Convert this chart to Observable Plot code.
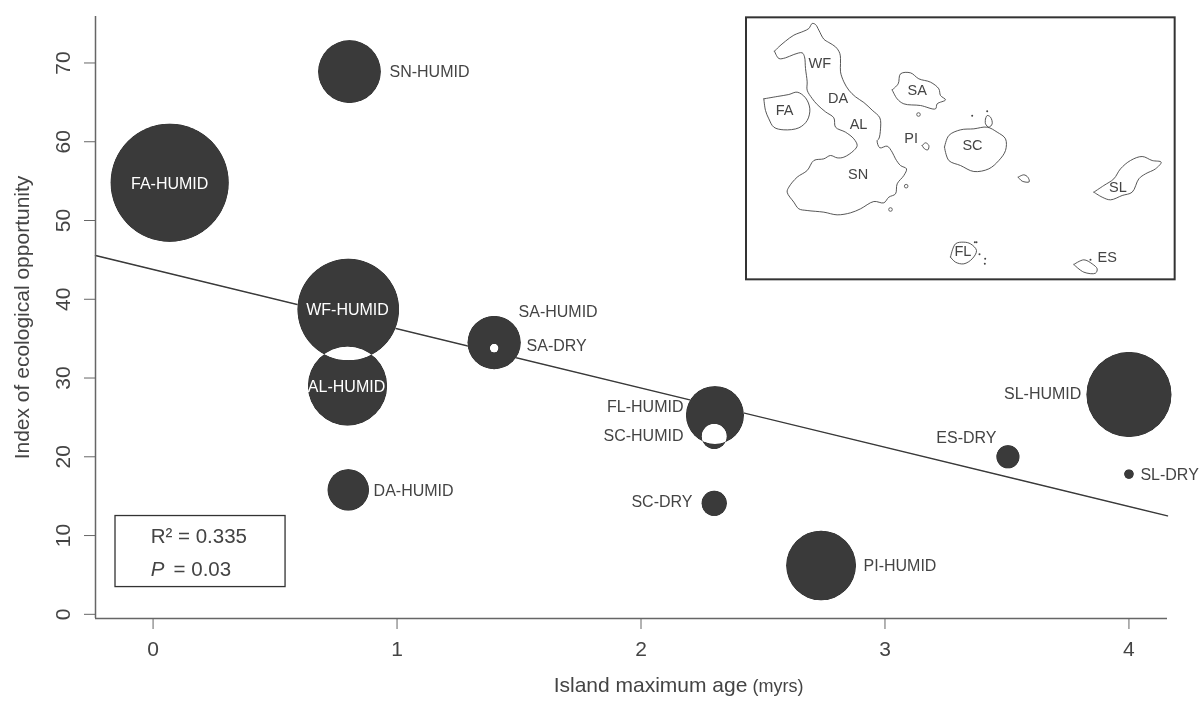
<!DOCTYPE html>
<html>
<head>
<meta charset="utf-8">
<script src="https://cdn.jsdelivr.net/npm/d3@7"></script>
<script src="https://cdn.jsdelivr.net/npm/@observablehq/plot@0.6"></script>
<style>
html,body{margin:0;padding:0;background:#fff;}
#wrap{position:relative;width:1199px;height:702px;overflow:hidden;}
#wrap svg{position:absolute;}
</style>
</head>
<body>
<div id="wrap"></div>
<script>
// ---- chart values ----
const habitats   = ["FA-HUMID","SN-HUMID","WF-HUMID","AL-HUMID","DA-HUMID","SA-HUMID","SA-DRY","FL-HUMID","SC-HUMID","SC-DRY","PI-HUMID","SL-HUMID","ES-DRY","SL-DRY"];
const islandAge  = [0.068,0.805,0.80,0.797,0.80,1.398,1.398,2.303,2.30,2.30,2.738,4.0,3.504,4.0];
const opportunity= [54.8,68.9,38.7,29.0,15.8,34.5,33.8,25.3,22.6,14.1,6.2,27.9,20.0,17.8];
const relSize    = [100,53,86,67,35,45,7.3,49,21.3,21.3,59,72,19.5,8];
const labelAge   = [0.068,0.969,0.797,0.793,0.904,1.498,1.531,2.174,2.174,2.211,2.912,3.805,3.457,4.047];
const labelOpp   = [54.6,68.9,38.6,28.9,15.7,38.4,34.1,26.4,22.6,14.3,6.2,28.0,22.4,17.7];
const labelAnchor= ["middle","start","middle","middle","start","start","start","end","end","end","start","end","end","start"];
const labelInk   = ["#fff","#444","#fff","#fff","#444","#444","#444","#444","#444","#444","#444","#444","#444","#444"];
const fitAge     = [-0.236,4.158];
const fitOpp     = [45.55,12.5];
const xTicks     = [0,1,2,3,4];
const yTicks     = [0,10,20,30,40,50,60,70];
const xDomain    = [-0.236,4.158];
const yDomain    = [-0.53,75.9];
const boxAge     = [-0.154,0.543];
const boxOpp     = [3.46,12.48];

// ---- inset map outlines (map's own coordinates) ----
const isabela = [[102,122],[115,109],[135,92],[160,74],[190,62],[205,54],[215,39],[225,42],[235,59],[250,86],[265,96],[285,109],[298,129],[300,159],[300,184],[310,214],[325,239],[345,259],[370,276],[395,299],[418,322],[420,355],[415,385],[410,390],[418,412],[440,407],[455,425],[465,445],[480,465],[498,475],[490,495],[470,520],[465,550],[445,560],[430,577],[400,573],[360,595],[330,607],[290,613],[250,605],[200,600],[175,595],[160,575],[140,545],[145,530],[170,500],[200,480],[220,450],[250,445],[270,435],[290,442],[310,440],[340,420],[350,405],[340,385],[315,365],[285,350],[280,322],[255,304],[230,282],[215,264],[200,239],[200,214],[195,174],[192,139],[185,127],[160,132],[135,142],[115,144],[102,122]];
const fernandina = [[70,265],[110,258],[145,252],[170,245],[195,262],[208,295],[200,330],[175,352],[130,358],[100,350],[85,325],[75,300],[70,265]];
const santiago = [[455,238],[473,220],[480,190],[510,187],[535,205],[570,215],[595,235],[600,255],[615,268],[590,280],[585,295],[540,285],[490,280],[470,265],[455,238]];
const santaCruz = [[612,410],[625,375],[660,358],[700,355],[740,350],[770,365],[795,385],[795,420],[775,450],[745,475],[700,483],[660,465],[625,450],[612,410]];
const baltra = [[735,325],[740,315],[750,320],[755,340],[745,350],[735,340],[735,325]];
const pinzon = [[545,405],[555,397],[565,405],[562,418],[552,415],[545,405]];
const santaFe = [[833,500],[850,493],[862,500],[866,514],[845,512],[833,500]];
const sanCristobal = [[1060,545],[1090,525],[1120,505],[1140,475],[1170,450],[1205,438],[1235,450],[1262,455],[1245,475],[1215,490],[1195,505],[1175,545],[1145,555],[1110,568],[1085,560],[1060,545]];
const floreana = [[630,740],[645,700],[670,695],[690,700],[708,720],[695,745],[670,760],[645,755],[630,740]];
const espanola = [[1000,762],[1030,748],[1055,760],[1070,775],[1065,788],[1030,785],[1000,762]];
const islets = [[695,316],[740,302],[703,695],[708,695],[717,731],[734,745],[733,760],[1050,748]];
const rings = [[534,312],[497,527],[450,597]];
const mapNames = ["WF","DA","AL","FA","SA","PI","SC","SN","SL","FL","ES"];
const mapNameX = [238,293,354,132,530,512,696,353,1132,667,1100];
const mapNameY = [160,265,342,300,240,384,405,492,530,722,741];

// ---- tables ----
const rows = habitats.map((h,i)=>({h,x:islandAge[i],y:opportunity[i],s:relSize[i],lx:labelAge[i],ly:labelOpp[i],a:labelAnchor[i],ink:labelInk[i]}));
const fit = fitAge.map((x,i)=>({x,y:fitOpp[i]}));
const outlines = [isabela,fernandina,santiago,santaCruz,baltra,pinzon,santaFe,sanCristobal,floreana,espanola]
  .flatMap((pts,k)=>pts.map(([x,y])=>({x,y,k})));

const font = "'Liberation Sans', Arial, sans-serif";
const ink = "#444";
const axisInk = "#666";
const dotInk = "#3a3a3a";
const rScale = {type:"linear",domain:[0,100],range:[0,59]};
const labelGroup = a => rows.filter(d=>d.a===a);
const labelMark = a => Plot.text(labelGroup(a),{x:"lx",y:"ly",text:"h",fill:"ink",textAnchor:a,fontSize:16});

const chart = Plot.plot({
  width:1199,height:702,
  marginLeft:95,marginRight:32,marginTop:16,marginBottom:84,
  style:{fontFamily:font,background:"#fff"},
  x:{domain:xDomain,label:null},
  y:{domain:yDomain,label:null},
  r:rScale,
  marks:[
    Plot.line(fit,{x:"x",y:"y",stroke:"#333",strokeWidth:1.4}),
    Plot.dot(rows,{x:"x",y:"y",r:"s",fill:"#fff",stroke:null}),
    Plot.dot(rows,{x:"x",y:"y",r:"s",fill:"#fff",stroke:null,mixBlendMode:"difference"}),
    Plot.rect([{}],{x1:()=>xDomain[0],x2:()=>4.3,y1:()=>yDomain[0],y2:()=>yDomain[1],fill:dotInk,mixBlendMode:"lighten"}),
    Plot.axisX({ticks:xTicks,tickSize:11,tickPadding:12,fontSize:21,stroke:axisInk,fill:ink,label:null,tickFormat:d=>d}),
    Plot.axisY({ticks:yTicks,tickSize:11,tickPadding:15,fontSize:21,stroke:axisInk,fill:ink,label:null,tickRotate:-90,tickFormat:d=>d}),
    Plot.ruleX([xDomain[0]],{stroke:axisInk,strokeWidth:1.5}),
    Plot.ruleY([yDomain[0]],{stroke:axisInk,strokeWidth:1.5}),
    labelMark("start"),labelMark("middle"),labelMark("end"),
    Plot.rect([{}],{x1:()=>boxAge[0],x2:()=>boxAge[1],y1:()=>boxOpp[0],y2:()=>boxOpp[1],stroke:"#333",strokeWidth:1.3,fill:"none"}),
    Plot.text(["R\u00b2 = 0.335"],{x:()=>-0.01,y:()=>9.95,textAnchor:"start",fontSize:20.5,fill:ink}),
    Plot.text(["P"],{x:()=>-0.01,y:()=>5.75,textAnchor:"start",fontSize:20.5,fontStyle:"italic",fill:ink}),
    Plot.text(["= 0.03"],{x:()=>0.084,y:()=>5.75,textAnchor:"start",fontSize:20.5,fill:ink}),
    Plot.text(["Index of ecological opportunity"],{frameAnchor:"left",textAnchor:"middle",rotate:-90,dx:-73,fontSize:21,fill:ink}),
    Plot.text(["Island maximum age"],{frameAnchor:"bottom",dx:19,dy:73,textAnchor:"middle",fontSize:21,fill:ink}),
    Plot.text(["(myrs)"],{frameAnchor:"bottom",dx:146.5,dy:73,textAnchor:"middle",fontSize:18,fill:ink})
  ]
});

const inset = Plot.plot({
  width:440,height:280,margin:0,
  style:{fontFamily:font,background:"transparent"},
  x:{domain:[0,1320],axis:null},
  y:{domain:[840,0],axis:null},
  marks:[
    Plot.rect([{}],{x1:()=>18,x2:()=>1304,y1:()=>22,y2:()=>808,fill:"#fff",stroke:"#333",strokeWidth:2}),
    Plot.line(outlines,{x:"x",y:"y",z:"k",stroke:"#444",strokeWidth:0.9,curve:"catmull-rom"}),
    Plot.dot(islets,{x:d=>d[0],y:d=>d[1],r:1,fill:"#444",stroke:null}),
    Plot.dot(rings,{x:d=>d[0],y:d=>d[1],r:1.8,fill:"none",stroke:"#555",strokeWidth:0.9}),
    Plot.text(mapNames,{x:(d,i)=>mapNameX[i],y:(d,i)=>mapNameY[i],text:d=>d,fontSize:14.5,fill:ink})
  ]
});
inset.style.left="740px";inset.style.top="10px";
chart.style.left="0";chart.style.top="0";
document.getElementById("wrap").append(chart,inset);
</script>
</body>
</html>
